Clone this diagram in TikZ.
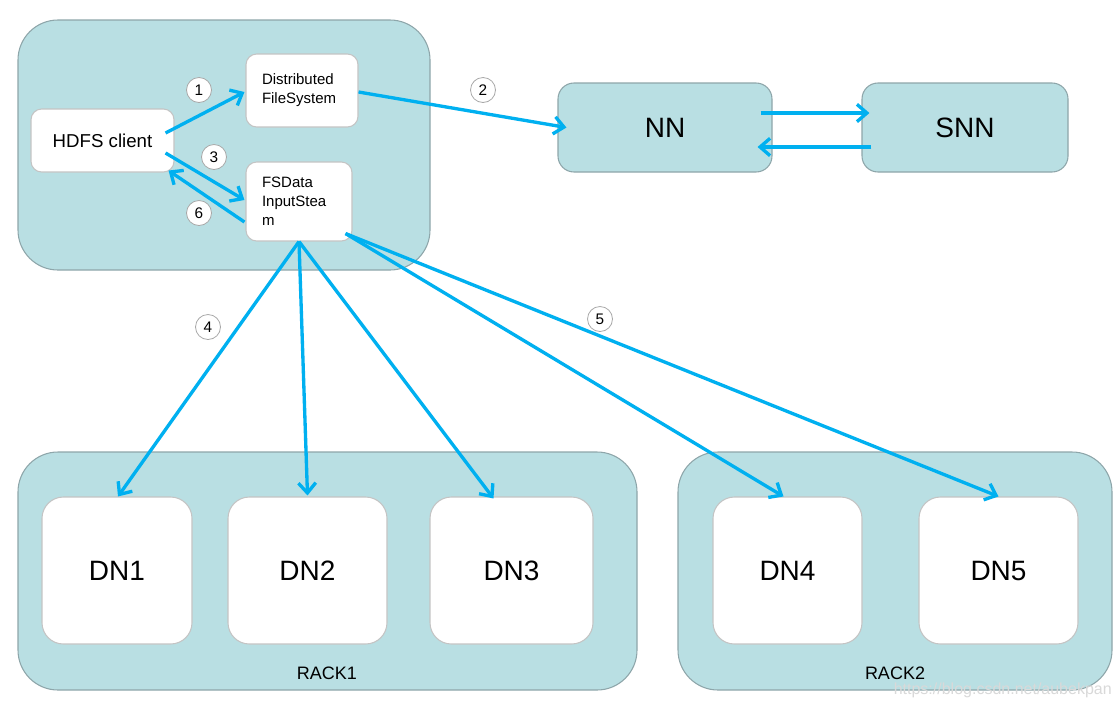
\documentclass[tikz,border=0pt]{standalone}
\usepackage{fontspec}
\setmainfont{Liberation Sans}
\usetikzlibrary{arrows.meta,calc}
\definecolor{boxfill}{HTML}{B9DFE3}
\definecolor{boxline}{HTML}{8EA6AA}
\definecolor{wline}{HTML}{C4C4C4}
\definecolor{arrowc}{HTML}{00B0F0}
\definecolor{numline}{HTML}{A8A8A8}
\tikzset{
  group/.style={draw=boxline, fill=boxfill, line width=0.8pt, rounded corners=30pt, inner sep=0pt},
  tealbox/.style={draw=boxline, fill=boxfill, line width=0.8pt, rounded corners=12pt, inner sep=0pt,
    font=\fontsize{21}{21}\selectfont},
  wbox/.style={draw=wline, fill=white, line width=0.8pt, rounded corners=8pt},
  dnbox/.style={draw=wline, fill=white, line width=0.8pt, rounded corners=16pt, inner sep=0pt,
    minimum height=110.25pt, font=\fontsize{21}{21}\selectfont},
  txtbox/.style={wbox, inner xsep=12pt, inner ysep=0pt, align=left, font=\fontsize{11.25}{14.25}\selectfont},
  num/.style={circle, draw=numline, fill=white, line width=0.6pt, minimum size=18.75pt, inner sep=0pt,
    font=\fontsize{11.5}{11.5}\selectfont},
  arr/.style={draw=arrowc, line width=2.5pt, -{Straight Barb[length=7.5pt,width=13pt]}},
  racklbl/.style={font=\fontsize{13.5}{13.5}\selectfont},
}
\begin{document}
\begin{tikzpicture}[x=0.75pt,y=-0.75pt]
\useasboundingbox (0,0) rectangle (1120,708);
\fill[white] (0,0) rectangle (1120,708);

% groups
\node[group, minimum width=309pt, minimum height=187.5pt] (g1) at (224,145) {};
\node[group, minimum width=464.25pt, minimum height=178.5pt] (rack1) at (327.5,571) {};
\node[group, minimum width=325.5pt, minimum height=178.5pt] (rack2) at (895,571) {};

% client side
\node[wbox, rounded corners=8pt, minimum width=107.25pt, minimum height=47.25pt, inner sep=0pt,
  font=\fontsize{14}{14}\selectfont] (hdfs) at (102.5,140.5) {HDFS client};
\node[txtbox, text width=60pt, minimum height=54.75pt] (dfs) at (302,90.5) {Distributed\\FileSystem};
\node[txtbox, text width=55.5pt, minimum height=59.25pt] (fsd) at (299,201.5) {FSData\\InputStea\\m};

% name nodes
\node[tealbox, minimum width=160.5pt, minimum height=66.75pt] (nn) at (665,127.5) {NN};
\node[tealbox, minimum width=154.5pt, minimum height=66.75pt] (snn) at (965,127.5) {SNN};

% data nodes
\node[dnbox, minimum width=112.5pt] (dn1) at (117,570.5) {DN1};
\node[dnbox, minimum width=119.25pt] (dn2) at (307.5,570.5) {DN2};
\node[dnbox, minimum width=122.25pt] (dn3) at (511.5,570.5) {DN3};
\node[dnbox, minimum width=111.75pt] (dn4) at (787.5,570.5) {DN4};
\node[dnbox, minimum width=119.25pt] (dn5) at (998.5,570.5) {DN5};

\node[racklbl] (r1l) at (327,673) {RACK1};
\node[racklbl] (r2l) at (895,673) {RACK2};

% arrows
\draw[arr] ([shift={(-9,-7.5)}]hdfs.east) -- ([shift={(-1,1.5)}]dfs.west);
\draw[arr] ([shift={(0,1.5)}]dfs.east) -- ([shift={(9,0)}]nn.west);
\draw[arr] ([shift={(-9,12.5)}]hdfs.east) -- ([shift={(-1,-1.5)}]fsd.west);
\draw[arr] ([shift={(-1,20.5)}]fsd.west) -- ([shift={(-6,-2)}]hdfs.south east);
\draw[arr] ([shift={(-12,-14.5)}]nn.east) -- ([shift={(8,-14.5)}]snn.west);
\draw[arr] ([shift={(10,19.5)}]snn.west) -- ([shift={(-15,19.5)}]nn.east);

\draw[arr] (fsd.south) -- ([shift={(1,0)}]dn1.north);
\draw[arr] (fsd.south) -- ([shift={(0,-1)}]dn2.north);
\draw[arr] (fsd.south) -- ([shift={(-18,2)}]dn3.north);
\draw[arr] ([shift={(-7,-8)}]fsd.south east) -- ([shift={(-4,0)}]dn4.north);
\draw[arr] ([shift={(-7,-8)}]fsd.south east) -- ([shift={(0,0)}]dn5.north);

% step numbers
\node[num] (n1) at (199,90) {1};
\node[num] (n2) at (483,90) {2};
\node[num] (n3) at (214,157) {3};
\node[num] (n6) at (199,213) {6};
\node[num] (n4) at (208,327) {4};
\node[num] (n5) at (600,319) {5};

% watermark
\node[text=gray!30, font=\fontsize{12}{12}\selectfont, anchor=east, inner sep=0pt] (wm) at (1112,690) {https://blog.csdn.net/aubekpan};
\end{tikzpicture}
\end{document}
